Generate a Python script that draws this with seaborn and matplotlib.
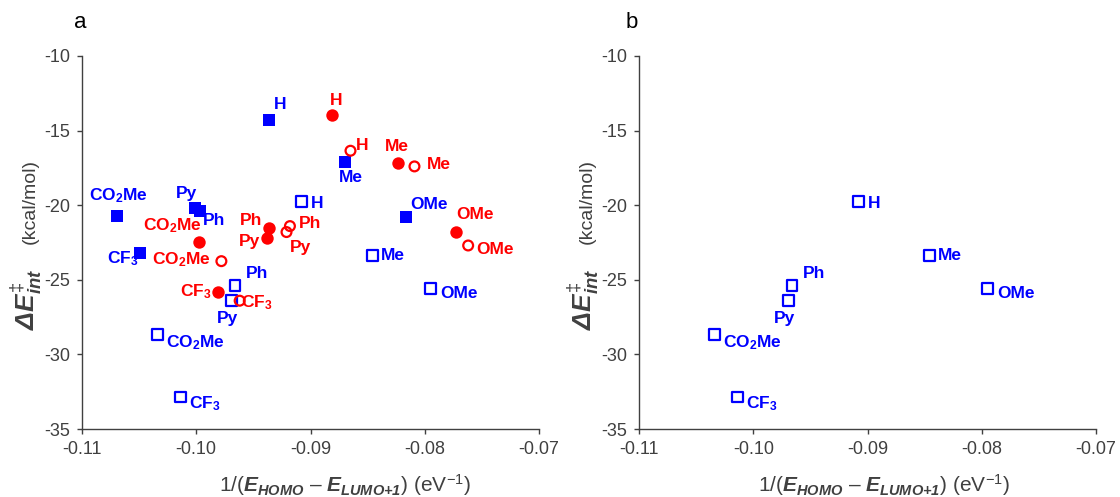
import matplotlib
matplotlib.use("Agg")
import matplotlib.pyplot as plt
import seaborn as sns
import pandas as pd

# ---------------- data ----------------
labels = ["H", "Me", "OMe", "Ph", "Py", "CO$_\\mathbf{2}$Me", "CF$_\\mathbf{3}$"]

# blue filled squares (panel a)
bf_x = [-0.0936, -0.0870, -0.0816, -0.0997, -0.1001, -0.1069, -0.1049]
bf_y = [-14.3, -17.1, -20.8, -20.4, -20.2, -20.7, -23.2]
# blue open squares (panels a and b)
bo_x = [-0.0908, -0.0846, -0.0795, -0.0966, -0.0969, -0.1034, -0.1014]
bo_y = [-19.75, -23.35, -25.6, -25.4, -26.4, -28.65, -32.85]
# red filled circles (panel a)
rf_x = [-0.0881, -0.0823, -0.0773, -0.0936, -0.0938, -0.0998, -0.0981]
rf_y = [-13.95, -17.2, -21.8, -21.55, -22.2, -22.5, -25.8]
# red open circles (panel a)
ro_x = [-0.0865, -0.0809, -0.0762, -0.0918, -0.0921, -0.0978, -0.0962]
ro_y = [-16.35, -17.4, -22.7, -21.4, -21.8, -23.75, -26.4]

x_ticks = [-0.11, -0.10, -0.09, -0.08, -0.07]
x_ticklabels = ["-0.11", "-0.10", "-0.09", "-0.08", "-0.07"]
y_ticks = [-35, -30, -25, -20, -15, -10]
y_ticklabels = ["-35", "-30", "-25", "-20", "-15", "-10"]

# label offsets (pixels) -- layout only
off_bf = [(11, 16), (6, -16), (23, 13), (14, -9), (-9, 15), (1, 20), (-17, -6)]
off_bo = [(16, -2), (21, 0), (29, -5), (22, 12), (-4, -18), (38, -8), (25, -7)]
off_rf = [(4, 14), (-2, 17), (19, 18), (-18, 8), (-18, -3), (-26, 17), (-22, 0)]
off_ro = [(12, 5), (24, 2), (27, -4), (20, 3), (14, -15), (-40, 1), (17, -2)]

BLUE = "#0000FF"
RED = "#FF0000"
AXC = "#404040"

sns.set_theme(style="white")
plt.rcParams["font.family"] = ["Liberation Sans", "DejaVu Sans"]
plt.rcParams["axes.unicode_minus"] = False
plt.rcParams["mathtext.fontset"] = "custom"
plt.rcParams["mathtext.rm"] = "Liberation Sans"
plt.rcParams["mathtext.it"] = "Liberation Sans:italic:bold"
plt.rcParams["mathtext.bf"] = "Liberation Sans:bold"
plt.rcParams["mathtext.sf"] = "Liberation Sans:italic:bold"

W, H = 1120, 497
fig = plt.figure(figsize=(11.2, 4.97), dpi=100)
axA = fig.add_axes([82 / W, 1 - 429 / H, 457 / W, 373 / H])
axB = fig.add_axes([639 / W, 1 - 429 / H, 457 / W, 373 / H])


def draw(ax, xs, ys, marker, color, size, filled, offs):
    df = pd.DataFrame({"x": xs, "y": ys, "lab": labels})
    n0 = len(ax.collections)
    sns.scatterplot(data=df, x="x", y="y", ax=ax, marker=marker, color=color,
                    s=size, linewidth=0 if filled else 1.6, legend=False,
                    zorder=3)
    coll = ax.collections[n0]
    if filled:
        coll.set_facecolor(color)
        coll.set_edgecolor(color)
    else:
        coll.set_facecolor("none")
        coll.set_edgecolor(color)
        coll.set_linewidth(1.6)
    for (xx, yy, lab), (dx, dy) in zip(zip(xs, ys, labels), offs):
        ax.annotate(lab, (xx, yy), xytext=(dx, dy), textcoords="offset pixels",
                    ha="center", va="center", fontsize=12.5, fontweight="bold",
                    color=color, zorder=4)


draw(axA, bf_x, bf_y, "s", BLUE, 85, True, off_bf)
draw(axA, bo_x, bo_y, "s", BLUE, 60, False, off_bo)
draw(axA, rf_x, rf_y, "o", RED, 80, True, off_rf)
draw(axA, ro_x, ro_y, "o", RED, 50, False, off_ro)
draw(axB, bo_x, bo_y, "s", BLUE, 60, False, off_bo)

for ax, x0, lx in ((axA, 82, 0.575), (axB, 639, 0.535)):
    ax.set_xlim(-0.11, -0.07)
    ax.set_ylim(-35, -10)
    ax.set_xticks(x_ticks)
    ax.set_xticklabels(x_ticklabels)
    ax.set_yticks(y_ticks)
    ax.set_yticklabels(y_ticklabels)
    sns.despine(ax=ax)
    for sp in ("left", "bottom"):
        ax.spines[sp].set_color(AXC)
        ax.spines[sp].set_linewidth(1.0)
    ax.tick_params(axis="both", direction="out", length=3.6, width=1.0,
                   color=AXC, labelcolor=AXC, labelsize=13, pad=5,
                   bottom=True, left=True)
    ax.set_xlabel("1/($E_{HOMO}$ – $E_{\\mathit{LUMO}{\\mathsf{+1}}}$) (eV$^{-1}$)",
                  fontsize=15, color=AXC)
    ax.xaxis.set_label_coords(lx, -0.115)
    ax.set_ylabel("")
    # y label in two parts (different sizes), rotated, common baseline
    bx = (x0 - 47) / W
    fig.text(bx, 1 - 330 / H, "$\\mathsf{\\Delta}E^{\\ddagger}_{int}$",
             fontsize=19, color=AXC, rotation=90, rotation_mode="anchor",
             ha="left", va="baseline")
    fig.text(bx, 1 - 244 / H, "(kcal/mol)", fontsize=14, color=AXC,
             rotation=90, rotation_mode="anchor", ha="left", va="baseline")

fig.text(80 / W, 1 - 23 / H, "a", fontsize=16, color="black",
         ha="center", va="center")
fig.text(632 / W, 1 - 22 / H, "b", fontsize=16, color="black",
         ha="center", va="center")

fig.savefig("out.png", dpi=100)
